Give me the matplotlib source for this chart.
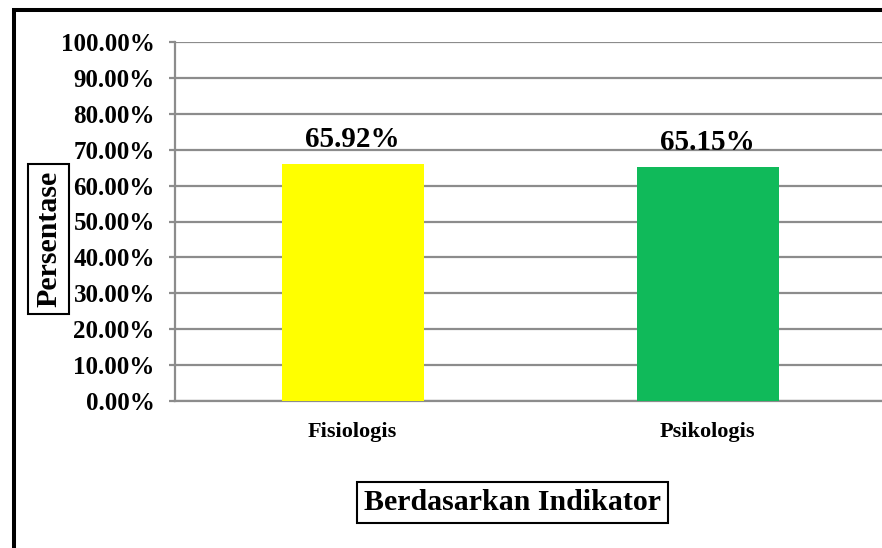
import matplotlib
matplotlib.use("Agg")
import matplotlib.pyplot as plt
from matplotlib.patches import Rectangle
from matplotlib.ticker import FuncFormatter, MultipleLocator

categories = ["Fisiologis", "Psikologis"]
values = [65.92, 65.15]
value_labels = ["65.92%", "65.15%"]
bar_colors = ["#FFFF00", "#10BA5A"]

plt.rcParams['font.family'] = ['Liberation Serif', 'DejaVu Serif']
plt.rcParams['font.weight'] = 'bold'

W, H = 882, 548
fig = plt.figure(figsize=(W / 100, H / 100), dpi=100)

# outer black frame (extends past right/bottom edges)
fig.patches.append(Rectangle((14.5 / W, -0.1), 1.2, 1 - 10.5 / H + 0.1,
                             transform=fig.transFigure, fill=False,
                             edgecolor='black', linewidth=2.9, zorder=0))

left, right, top, bottom = 175, 885, 42, 401
ax = fig.add_axes([left / W, 1 - bottom / H, (right - left) / W, (bottom - top) / H])

x = list(range(len(categories)))
bars = ax.bar(x, values, width=0.4, color=bar_colors, zorder=3)
ax.set_xlim(-0.5, 1.5)
ax.set_ylim(0, 100)
ax.yaxis.set_major_locator(MultipleLocator(10))
ax.yaxis.set_major_formatter(FuncFormatter(lambda v, p: f"{v:.2f}%"))
ax.grid(axis='y', color='#8C8C8C', linewidth=1.6, zorder=0)
ax.set_axisbelow(True)

for s in ['top', 'right']:
    ax.spines[s].set_visible(False)
ax.spines['left'].set_color('#8C8C8C')
ax.spines['left'].set_linewidth(1.6)
ax.spines['bottom'].set_color('#8C8C8C')
ax.spines['bottom'].set_linewidth(1.6)

ax.set_xticks(x)
ax.set_xticklabels(categories, fontsize=16, fontweight='bold')
ax.tick_params(axis='x', length=0, pad=15)
ax.tick_params(axis='y', length=4.5, width=1.6, color='#8C8C8C', pad=10,
               labelsize=18)
for lbl in ax.get_yticklabels():
    lbl.set_fontweight('bold')

for xi, v, t in zip(x, values, value_labels):
    ax.annotate(t, (xi, v), xytext=(0, 12.5), textcoords='offset points',
                ha='center', va='baseline', fontsize=21, fontweight='bold')

fig.text(48.5 / W, 1 - 239 / H, "Persentase", rotation=90, ha='center', va='center',
         fontsize=21.5, fontweight='bold',
         bbox=dict(boxstyle='square,pad=0.24', facecolor='white', edgecolor='black', linewidth=1.5))
fig.text(512.5 / W, 1 - 502.5 / H, "Berdasarkan Indikator", ha='center', va='center',
         fontsize=21.5, fontweight='bold',
         bbox=dict(boxstyle='square,pad=0.24', facecolor='white', edgecolor='black', linewidth=1.5))

fig.savefig("out.png", dpi=100, facecolor='white')
